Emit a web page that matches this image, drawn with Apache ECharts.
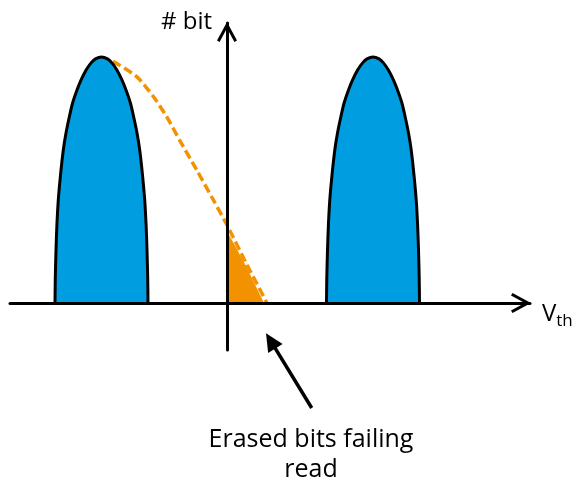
<!DOCTYPE html>
<html>
<head>
<meta charset="utf-8">
<script src="https://cdn.jsdelivr.net/npm/echarts@6/dist/echarts.min.js"></script>
<style>
html,body{margin:0;padding:0;background:#fff;}
#chart{width:577px;height:485px;}
</style>
</head>
<body>
<div id="chart"></div>
<script>
// ---- data (arbitrary units: x = threshold voltage, y = number of bits) ----
const leftPeakX  = [-17.20, -17.17, -17.10, -17.01, -16.87, -16.65, -16.37, -16.10, -15.77, -15.44, -15.00, -14.59, -14.09, -13.59, -13.15, -12.55,
                    -11.95, -11.51, -11.01, -10.51, -10.10, -9.66, -9.33, -9.00, -8.73, -8.45, -8.23, -8.09, -8.00, -7.93, -7.90];
const leftPeakY  = [0, 10.2, 21.5, 31.7, 41.9, 52.0, 62.2, 69.1, 75.6, 81.3, 86.6, 90.7, 94.7, 97.6, 99.2, 100,
                    99.2, 97.6, 94.7, 90.7, 86.6, 81.3, 75.6, 69.1, 62.2, 52.0, 41.9, 31.7, 21.5, 10.2, 0];
const rightPeakX = [9.95, 9.98, 10.05, 10.14, 10.28, 10.50, 10.78, 11.05, 11.38, 11.71, 12.15, 12.56, 13.06, 13.56, 14.00, 14.60,
                    15.20, 15.64, 16.14, 16.64, 17.05, 17.49, 17.82, 18.15, 18.42, 18.70, 18.92, 19.06, 19.15, 19.22, 19.25];
const rightPeakY = [0, 10.2, 21.5, 31.7, 41.9, 52.0, 62.2, 69.1, 75.6, 81.3, 86.6, 90.7, 94.7, 97.6, 99.2, 100,
                    99.2, 97.6, 94.7, 90.7, 86.6, 81.3, 75.6, 69.1, 62.2, 52.0, 41.9, 31.7, 21.5, 10.2, 0];
const tailX = [-11.4, -9.03, -7.37, -6.03, -4.70, -3.03, -1.37, 0, 1.9, 4.0];
const tailY = [98.2, 92.0, 83.9, 75.7, 65.9, 54.1, 41.9, 31.7, 16.3, 0];
const failX = [0, 1.9, 3.7];
const failY = [29.3, 15.0, 0];
const yAxisName = '# bit';
const xAxisNameMain = 'V';
const xAxisNameSub = 'th';
const noteText = 'Erased bits failing\nread';
const noteArrowFrom = [8.47, -42.7];
const noteArrowTo = [4.37, -15.4];

const pairs = (xs, ys) => xs.map((x, i) => [x, ys[i]]);
const FONT = '"Open Sans", "DejaVu Sans", sans-serif';
const BLUE = '#009EE0';
const ORANGE = '#F39200';
const chevron = 'path://M10 0 L20 18.5 L17.4 20 L10 6.2 L2.6 20 L0 18.5 Z';

const chart = echarts.init(document.getElementById('chart'), null, {renderer: 'canvas'});
const axisLine = {
  show: true,
  onZero: true,
  symbol: ['none', chevron],
  symbolSize: [20, 20],
  symbolOffset: [0, -9],
  lineStyle: {color: '#000', width: 3}
};
const hiddenAxis = {show: false, axisLine: {show: false, onZero: false}, axisTick: {show: false}, axisLabel: {show: false}, splitLine: {show: false}};
chart.setOption({
  animation: false,
  backgroundColor: '#fff',
  title: {
    text: noteText,
    left: 311,
    top: 425,
    textAlign: 'center',
    padding: 0,
    textStyle: {fontFamily: FONT, fontSize: 25, fontWeight: 'normal', color: '#000', lineHeight: 30}
  },
  grid: [
    {left: 10, right: 47, top: 23, bottom: 135, containLabel: false},
    {left: 10, right: 47, top: 23, bottom: 0, containLabel: false}
  ],
  xAxis: [{
    type: 'value', min: -21.7, max: 30.3, z: 10, gridIndex: 0,
    axisLine: axisLine,
    axisTick: {show: false}, axisLabel: {show: false}, splitLine: {show: false},
    name: '{v|' + xAxisNameMain + '}{s|' + xAxisNameSub + '}',
    nameLocation: 'end',
    nameGap: 12,
    nameTextStyle: {
      verticalAlign: 'top',
      align: 'left',
      padding: [-3, 0, 0, 0],
      rich: {
        v: {fontFamily: FONT, fontSize: 24, color: '#000', verticalAlign: 'bottom', lineHeight: 26},
        s: {fontFamily: FONT, fontSize: 17, color: '#000', verticalAlign: 'bottom', lineHeight: 18, padding: [0, 0, -4, 0]}
      }
    }
  }, Object.assign({type: 'value', min: -21.7, max: 30.3, gridIndex: 1}, hiddenAxis)],
  yAxis: [{
    type: 'value', min: -19.1, max: 113.8, z: 10, gridIndex: 0,
    axisLine: axisLine,
    axisTick: {show: false}, axisLabel: {show: false}, splitLine: {show: false},
    name: yAxisName,
    nameLocation: 'end',
    nameGap: 1,
    nameTextStyle: {fontFamily: FONT, fontSize: 24, color: '#000', align: 'right', verticalAlign: 'middle', padding: [0, 15, 0, 0]}
  }, Object.assign({type: 'value', min: -74.0, max: 113.8, gridIndex: 1}, hiddenAxis)],
  series: [
    {
      type: 'line', name: 'fail', data: pairs(failX, failY), symbol: 'none', z: 1,
      lineStyle: {width: 0, opacity: 0},
      areaStyle: {color: ORANGE, opacity: 1},
      silent: true
    },
    {
      type: 'line', name: 'tail', data: pairs(tailX, tailY), symbol: 'none', smooth: 0.25, z: 2,
      lineStyle: {color: ORANGE, width: 3.5, type: [9, 4]},
      silent: true
    },
    {
      type: 'line', name: 'erased', data: pairs(leftPeakX, leftPeakY), symbol: 'none', smooth: 0.3, z: 3,
      lineStyle: {color: '#000', width: 3},
      areaStyle: {color: BLUE, opacity: 1},
      silent: true
    },
    {
      type: 'line', name: 'programmed', data: pairs(rightPeakX, rightPeakY), symbol: 'none', smooth: 0.3, z: 3,
      lineStyle: {color: '#000', width: 3},
      areaStyle: {color: BLUE, opacity: 1},
      silent: true
    },
    {
      type: 'line', name: 'note', xAxisIndex: 1, yAxisIndex: 1, data: [], symbol: 'none', z: 4,
      silent: true,
      markLine: {
        silent: true,
        animation: false,
        symbol: ['none', 'triangle'],
        symbolSize: [17, 18],
        label: {show: false},
        lineStyle: {color: '#000', width: 3.5, type: 'solid'},
        emphasis: {disabled: true},
        data: [[{coord: noteArrowFrom}, {coord: noteArrowTo}]]
      }
    }
  ]
});
</script>
</body>
</html>
